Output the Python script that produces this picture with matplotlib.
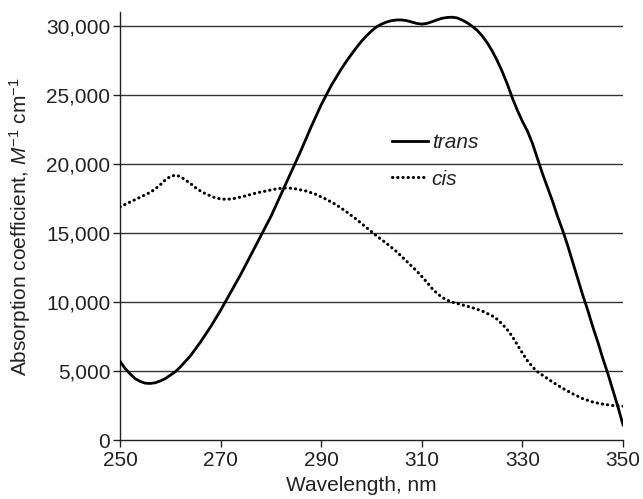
import numpy as np
import matplotlib
matplotlib.use("Agg")
import matplotlib.pyplot as plt

plt.rcParams["font.family"] = ["Liberation Sans", "DejaVu Sans"]
plt.rcParams["mathtext.fontset"] = "custom"
plt.rcParams["mathtext.rm"] = "Liberation Sans"
plt.rcParams["mathtext.it"] = "Liberation Sans:italic"

# trans isomer spectrum
trans_wl = [250, 251, 252, 253, 254, 255, 256, 257, 258, 259, 260, 261, 262, 264, 266,
            268, 270, 272, 274, 276, 278, 280, 282, 284, 286, 288, 290, 291, 292, 293,
            294, 295, 296, 297, 298, 299, 300, 301, 302, 303, 304, 305, 306, 307, 308,
            309, 310, 311, 312, 313, 314, 315, 316, 317, 318, 319, 320, 321, 322, 323,
            324, 325, 326, 327, 328, 329, 330, 331, 332, 333, 334, 335, 336, 337, 338,
            339, 340, 341, 342, 343, 344, 345, 346, 347, 348, 349, 350]
trans_eps = [5700, 5200, 4800, 4450, 4250, 4120, 4100, 4150, 4280, 4450, 4700, 4950,
             5300, 6100, 7100, 8200, 9400, 10700, 12000, 13400, 14800, 16200, 17800,
             19400, 21000, 22700, 24300, 25000, 25700, 26300, 26900, 27450, 27950, 28450,
             28900, 29300, 29650, 29950, 30150, 30300, 30400, 30450, 30450, 30400, 30300,
             30200, 30150, 30200, 30320, 30450, 30570, 30630, 30650, 30600, 30450, 30250,
             30000, 29700, 29300, 28800, 28200, 27500, 26700, 25800, 24800, 23900, 23100,
             22400, 21500, 20400, 19300, 18300, 17300, 16200, 15200, 14100, 12900, 11700,
             10500, 9400, 8200, 7100, 5900, 4800, 3600, 2400, 1100]

# cis isomer spectrum
cis_wl = [250, 252, 254, 256, 257, 258, 259, 260, 261, 262, 263, 264, 265, 266, 267,
          268, 269, 270, 271, 272, 273, 275, 277, 279, 281, 282, 283, 284, 285, 287,
          289, 291, 293, 295, 297, 299, 301, 303, 305, 307, 309, 311, 312, 313, 314,
          315, 316, 317, 318, 320, 322, 324, 325, 326, 327, 328, 329, 330, 331, 332,
          333, 334, 336, 338, 340, 342, 344, 346, 348, 350]
cis_eps = [16900, 17250, 17600, 17950, 18200, 18500, 18850, 19100, 19200, 19100, 18850,
           18600, 18300, 18050, 17850, 17700, 17550, 17480, 17450, 17470, 17530, 17700,
           17900, 18050, 18200, 18250, 18270, 18250, 18200, 18050, 17800, 17450, 17050,
           16550, 16000, 15400, 14800, 14250, 13650, 12950, 12250, 11450, 11000, 10650,
           10350, 10150, 10000, 9900, 9800, 9600, 9350, 9000, 8750, 8400, 8000, 7500,
           6900, 6300, 5750, 5300, 4950, 4700, 4200, 3750, 3350, 3000, 2750, 2600, 2500,
           2450]

xticks = [250, 270, 290, 310, 330, 350]
yticks = [0, 5000, 10000, 15000, 20000, 25000, 30000]

fig = plt.figure(figsize=(6.43, 4.99), dpi=100)
ax = fig.add_axes([0.1866, 0.1182, 0.7823, 0.8570])

for y in yticks[1:]:
    ax.axhline(y, color="#333333", lw=1.0, zorder=1)

ax.plot(trans_wl, trans_eps, color="black", lw=2.0, label="trans", zorder=3)
ax.plot(cis_wl, cis_eps, color="black", lw=2.2, linestyle=(0, (0.1, 1.6)),
        dash_capstyle="round", label="cis", zorder=3)

ax.set_xlim(250, 350)
ax.set_ylim(0, 31000)
ax.set_xticks(xticks)
ax.set_yticks(yticks)
ax.set_yticklabels([f"{v:,}" for v in yticks])

for s in ["top", "right"]:
    ax.spines[s].set_visible(False)
for s in ["left", "bottom"]:
    ax.spines[s].set_color("#222222")
    ax.spines[s].set_linewidth(1.0)

ax.tick_params(axis="both", direction="out", length=5, width=1.0,
               color="#222222", labelsize=15, labelcolor="#222222")
ax.tick_params(axis="y", pad=2)
ax.tick_params(axis="x", pad=3)

ax.set_xlabel("Wavelength, nm", fontsize=15, color="#222222")
ax.xaxis.set_label_coords(0.48, -0.083)
ax.set_ylabel(r"Absorption coefficient, $\mathit{M}^{-1}$ cm$^{-1}$",
              fontsize=15, color="#222222")
ax.yaxis.set_label_coords(-0.172, 0.50)

leg = ax.legend(loc="upper left", bbox_to_anchor=(0.541, 0.718), frameon=False,
                prop={"style": "italic", "size": 15}, handlelength=1.7,
                handletextpad=0.2, labelspacing=0.85, borderpad=0,
                borderaxespad=0)
for t in leg.get_texts():
    t.set_color("#222222")

fig.savefig("out.png", dpi=100)
